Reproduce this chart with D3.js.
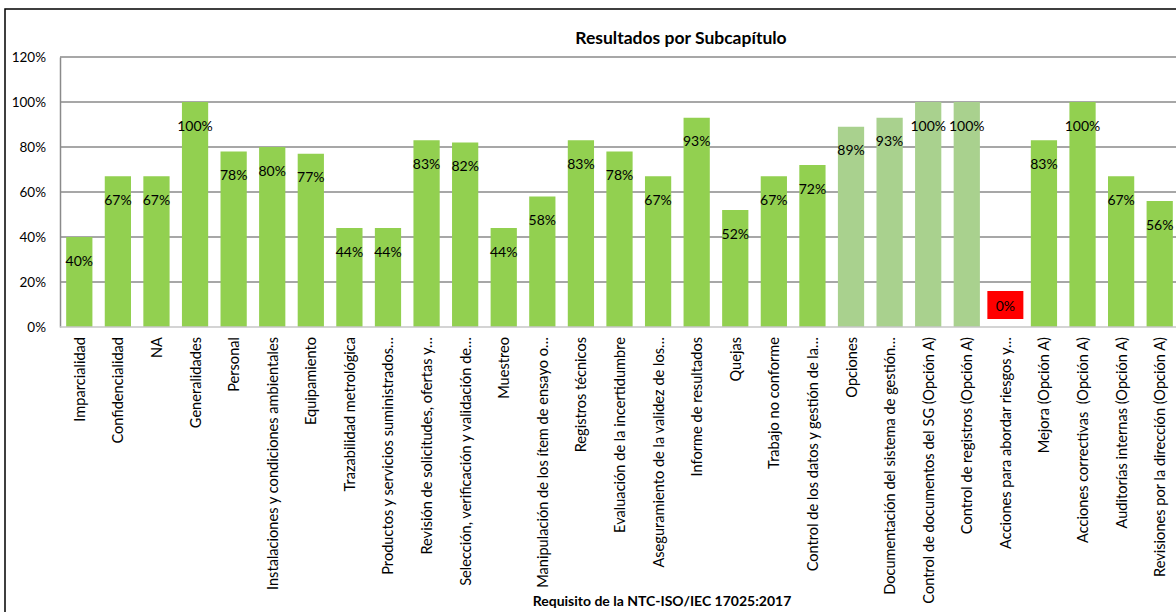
<!DOCTYPE html>
<html>
<head>
<meta charset="utf-8">
<script src="https://cdn.jsdelivr.net/npm/d3@7"></script>
<style>
  html, body { margin: 0; padding: 0; background: #fff; overflow: hidden; }
  svg { display: block; font-family: Lato, "Open Sans", sans-serif; }
  .cat { white-space: pre; }
</style>
</head>
<body>
<svg id="chart" width="1176" height="612"></svg>
<script>
// Subchapter names (x axis)
const categories = [
  "Imparcialidad",
  "Confidencialidad",
  "NA",
  "Generalidades",
  "Personal",
  "Instalaciones y condiciones ambientales",
  "Equipamiento",
  "Trazabilidad metrológica",
  "Productos y servicios suministrados…",
  "Revisión de solicitudes, ofertas y…",
  "Selección, verificación y validación de…",
  "Muestreo",
  "Manipulación de los ítem de ensayo o…",
  "Registros técnicos",
  "Evaluación de la incertidumbre",
  "Aseguramiento de la validez de los…",
  "Informe de resultados",
  "Quejas",
  "Trabajo no conforme",
  "Control de los datos y gestión de la…",
  "Opciones",
  "Documentación del sistema de gestión…",
  "Control de documentos del SG (Opción A)",
  "Control de registros (Opción A)",
  "Acciones para abordar riesgos y…",
  "Mejora (Opción A)",
  "Acciones correctivas  (Opción A)",
  "Auditorías internas (Opción A)",
  "Revisiones por la dirección (Opción A)"
];

// Compliance per subchapter, in percent
const values = [40, 67, 67, 100, 78, 80, 77, 44, 44, 83, 82, 44, 58, 83, 78, 67, 93, 52, 67, 72, 89, 93, 100, 100, 0, 83, 100, 67, 56];

// Subchapters drawn in the lighter shade (management system options)
const lightGroup = ["Opciones", "Documentación del sistema de gestión…", "Control de documentos del SG (Opción A)", "Control de registros (Opción A)"];

const yTicks = [0, 20, 40, 60, 80, 100, 120];

const svg = d3.select("#chart");

// Outer chart frame
svg.append("rect")
  .attr("x", 5).attr("y", 9)
  .attr("width", 1400).attr("height", 700)
  .attr("fill", "#fff").attr("stroke", "#000").attr("stroke-width", 1.5);

const plot = { left: 60, top: 57, right: 1179, bottom: 327 };

const x = d3.scaleBand()
  .domain(categories)
  .range([plot.left, plot.right])
  .paddingInner(0.32)
  .paddingOuter(0.16);

const y = d3.scaleLinear()
  .domain([0, 120])
  .range([plot.bottom, plot.top]);

// Horizontal gridlines
svg.append("g")
  .selectAll("line")
  .data(yTicks.filter(t => t > 0))
  .join("line")
  .attr("x1", plot.left).attr("x2", plot.right + 10)
  .attr("y1", d => y(d)).attr("y2", d => y(d))
  .attr("stroke", "#8a8a8a").attr("stroke-width", 1.5);

// Y axis
const yAxis = svg.append("g")
  .attr("transform", `translate(${plot.left},0)`)
  .call(d3.axisLeft(y).tickValues(yTicks).tickFormat(d => d + "%").tickSize(0).tickPadding(14));
yAxis.select(".domain").attr("stroke", "#8a8a8a").attr("stroke-width", 1.5);
yAxis.selectAll("text").attr("font-size", 13.5).attr("fill", "#000")
  .attr("font-family", "Lato, 'Open Sans', sans-serif");

// Bars
svg.append("g")
  .selectAll("rect")
  .data(categories)
  .join("rect")
  .attr("x", d => x(d))
  .attr("width", x.bandwidth())
  .attr("y", (d, i) => y(values[i]))
  .attr("height", (d, i) => plot.bottom - y(values[i]))
  .attr("fill", d => lightGroup.includes(d) ? "#a9d18e" : "#92d050");

// X axis baseline
svg.append("line")
  .attr("x1", plot.left).attr("x2", plot.right + 10)
  .attr("y1", plot.bottom).attr("y2", plot.bottom)
  .attr("stroke", "#c6c6c6").attr("stroke-width", 1.5);

// Value labels: inside the bar end; an empty bar gets its label above the axis on a red box
const labels = svg.append("g");
categories.forEach((c, i) => {
  const cx = x(c) + x.bandwidth() / 2;
  const cy = values[i] === 0 ? plot.bottom - 22 : y(values[i]) + 23;
  if (values[i] === 0) {
    labels.append("rect")
      .attr("x", cx - 18).attr("y", cy - 14)
      .attr("width", 36).attr("height", 28)
      .attr("fill", "#ff0000");
  }
  labels.append("text")
    .attr("x", cx).attr("y", cy)
    .attr("text-anchor", "middle")
    .attr("dominant-baseline", "central")
    .attr("font-size", 14)
    .attr("fill", "#000")
    .text(values[i] + "%");
});

// Category labels, rotated
svg.append("g")
  .selectAll("text")
  .data(categories)
  .join("text")
  .attr("class", "cat")
  .attr("transform", d => `translate(${x(d) + x.bandwidth() / 2},${plot.bottom + 10}) rotate(-90)`)
  .attr("text-anchor", "end")
  .attr("dominant-baseline", "central")
  .attr("font-size", 14.6)
  .attr("fill", "#000")
  .text(d => d);

// Chart title
svg.append("text")
  .attr("x", 681).attr("y", 37)
  .attr("text-anchor", "middle")
  .attr("dominant-baseline", "central")
  .attr("font-size", 17.5).attr("font-weight", "bold")
  .text("Resultados por Subcapítulo");

// X axis title
svg.append("text")
  .attr("x", 662).attr("y", 600)
  .attr("text-anchor", "middle")
  .attr("dominant-baseline", "central")
  .attr("font-size", 14).attr("font-weight", "bold")
  .text("Requisito de la NTC-ISO/IEC 17025:2017");
</script>
</body>
</html>
